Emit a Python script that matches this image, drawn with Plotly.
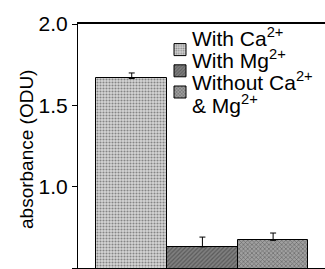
import plotly.graph_objects as go

categories = ["With Ca<sup>2+</sup>", "With Mg<sup>2+</sup>", "Without Ca<sup>2+</sup> & Mg<sup>2+</sup>"]
legend_lines = ["With Ca<sup>2+</sup>", "With Mg<sup>2+</sup>", "Without Ca<sup>2+</sup>", "& Mg<sup>2+</sup>"]
x_pos = [0, 1, 2]
values = [1.665, 0.63, 0.67]
errors = [0.034, 0.06, 0.045]
y_ticks = [0.5, 1.0, 1.5, 2.0]
y_ticktext = ["0.5", "1.0", "1.5", "2.0"]
y_title = "absorbance (ODU)"

bg_colors = ["#d6d6d6", "#808080", "#a0a0a0"]
pat_shapes = [".", "/", "x"]

# plot geometry (px) for placing texts in paper coordinates
L, T, W, H = 78, 24, 247, 244

fig = go.Figure()
for i in range(3):
    fig.add_trace(go.Bar(
        x=[x_pos[i]], y=[values[i]], name="", width=1.0,
        hovertemplate=categories[i] + ": %{y}<extra></extra>",
        marker=dict(color=bg_colors[i], line=dict(color="black", width=1),
                    pattern=dict(shape=pat_shapes[i], fgcolor="#333333",
                                 bgcolor=bg_colors[i], size=3, solidity=0.4)),
        error_y=dict(type="data", symmetric=False, array=[errors[i]], arrayminus=[0],
                     color="black", thickness=1, width=3),
    ))

line_y_px = [37, 59, 81, 104]
for txt, ypx in zip(legend_lines, line_y_px):
    fig.add_annotation(text=txt, xref="paper", yref="paper",
                       x=(190 - L) / W, y=(T + H - ypx) / H,
                       xanchor="left", yanchor="middle", showarrow=False,
                       font=dict(size=21, color="black"))

fig.add_annotation(text=y_title, xref="paper", yref="paper",
                   x=(26 - L) / W, y=(T + H - 150) / H, textangle=-90,
                   xanchor="center", yanchor="middle", showarrow=False,
                   font=dict(size=19, color="black"))

fig.update_layout(
    width=325, height=269,
    margin=dict(l=L, r=325 - L - W, t=T, b=269 - T - H),
    paper_bgcolor="white", plot_bgcolor="white",
    font=dict(family="Liberation Sans, Arial, sans-serif", color="black", size=18),
    showlegend=True,
    legend=dict(x=(160 - L) / W, y=(T + H - 34) / H, xanchor="left", yanchor="top",
                bgcolor="rgba(0,0,0,0)", font=dict(size=14), itemwidth=30, tracegroupgap=0),
    bargap=0,
)
fig.update_xaxes(range=[-0.76, 2.734], showline=True, linecolor="black", linewidth=1.5,
                 mirror=True, showticklabels=False, ticks="", showgrid=False, zeroline=False)
fig.update_yaxes(range=[0.5, 2.0], tickvals=y_ticks, ticktext=y_ticktext,
                 showline=True, linecolor="black", linewidth=1, ticks="outside", ticklen=5,
                 tickcolor="black", showgrid=False, zeroline=False,
                 tickfont=dict(size=21))

fig.write_html("out.html", config={"displayModeBar": False},
               post_script="document.body.style.margin='0';")
